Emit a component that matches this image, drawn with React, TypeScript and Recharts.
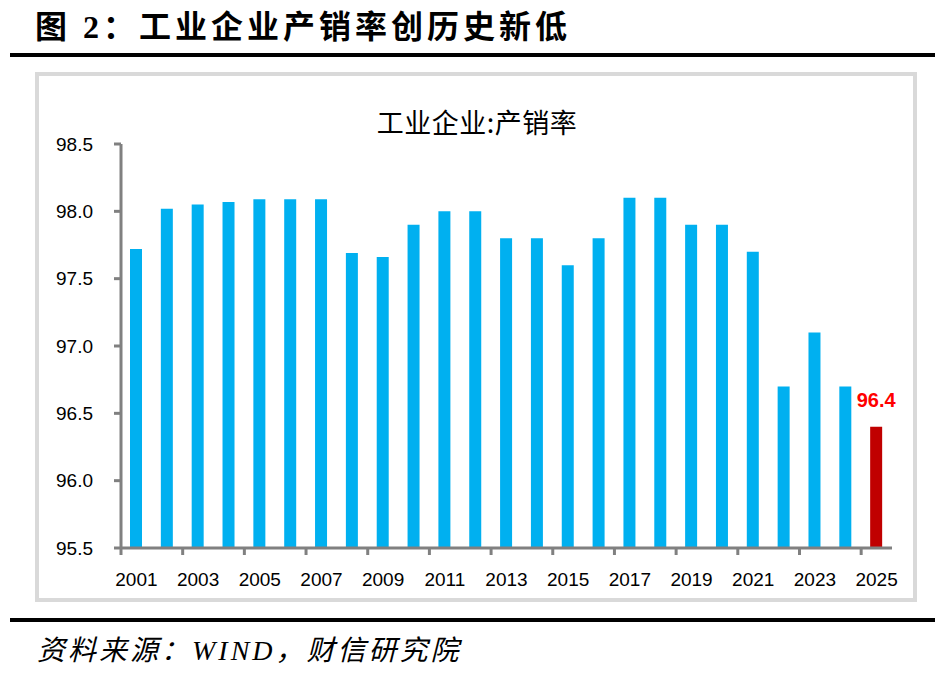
import React from 'react';
import { BarChart, Bar, XAxis, YAxis, Cell, LabelList } from 'recharts';

const years = [
  '2001', '2002', '2003', '2004', '2005', '2006', '2007', '2008', '2009', '2010',
  '2011', '2012', '2013', '2014', '2015', '2016', '2017', '2018', '2019', '2020',
  '2021', '2022', '2023', '2024', '2025',
];

const salesRate = [
  97.72, 98.02, 98.05, 98.07, 98.09, 98.09, 98.09, 97.69, 97.66, 97.9,
  98.0, 98.0, 97.8, 97.8, 97.6, 97.8, 98.1, 98.1, 97.9, 97.9,
  97.7, 96.7, 97.1, 96.7, 96.4,
];

const yTicks = [95.5, 96.0, 96.5, 97.0, 97.5, 98.0, 98.5];

const data = years.map((year, i) => ({ year, value: salesRate[i] }));

const PLOT_LEFT = 121;
const PLOT_RIGHT = 892;
const PLOT_TOP = 144;
const PLOT_BOTTOM = 548;
const BAND = (PLOT_RIGHT - PLOT_LEFT) / years.length;
const AXIS_GRAY = '#808080';
const TICK_FONT = '"Liberation Sans", Arial, sans-serif';

function YearTick(props: any) {
  const { x, y, payload } = props;
  const tx = x - BAND / 2;
  return (
    <g>
      <line x1={tx} x2={tx} y1={y} y2={y + 7} stroke={AXIS_GRAY} strokeWidth={3} />
      <text x={x} y={y + 38} textAnchor="middle" fill="#000" fontSize={19} fontFamily={TICK_FONT}>
        {payload.value}
      </text>
    </g>
  );
}

function LastLabel(props: any) {
  const { x, y, width, index, value } = props;
  if (index !== years.length - 1) return null;
  return (
    <text
      x={x + width / 2}
      y={y - 20}
      textAnchor="middle"
      fill="#FF0000"
      fontSize={20}
      fontWeight="bold"
      fontFamily={TICK_FONT}
    >
      {value}
    </text>
  );
}

export default function App() {
  return (
    <div style={{ position: 'absolute', left: 0, top: 0, width: 948, height: 678, background: '#fff', overflow: 'hidden' }}>
      <div
        style={{
          position: 'absolute',
          left: 35,
          top: 8,
          height: 38,
          lineHeight: '38px',
          fontSize: 32,
          fontWeight: 'bold',
          letterSpacing: 4,
          fontFamily: '"Liberation Serif", "Noto Sans CJK SC", serif',
          color: '#000',
          whiteSpace: 'nowrap',
        }}
      >
        图 2：工业企业产销率创历史新低
      </div>
      <div style={{ position: 'absolute', left: 10, top: 53, width: 925, height: 4, background: '#000' }} />

      <div
        style={{
          position: 'absolute',
          left: 35,
          top: 72,
          width: 882,
          height: 530,
          border: '4px solid #d9d9d9',
          boxSizing: 'border-box',
        }}
      />

      <div
        style={{
          position: 'absolute',
          left: 277,
          width: 400,
          top: 106,
          height: 32,
          lineHeight: '32px',
          textAlign: 'center',
          fontSize: 27,
          letterSpacing: 0.5,
          fontFamily: '"Noto Sans CJK SC", sans-serif',
          color: '#000',
        }}
      >
        工业企业:产销率
      </div>

      <div style={{ position: 'absolute', left: 0, top: 0 }}>
        <BarChart
          width={948}
          height={678}
          data={data}
          margin={{ top: PLOT_TOP, right: 948 - PLOT_RIGHT, bottom: 678 - PLOT_BOTTOM - 40, left: PLOT_LEFT - 80 }}
        >
          <XAxis
            dataKey="year"
            interval={1}
            height={40}
            tickSize={0}
            tickMargin={0}
            tickLine={false}
            axisLine={{ stroke: AXIS_GRAY, strokeWidth: 3 }}
            tick={<YearTick />}
          />
          <YAxis
            width={80}
            domain={[95.5, 98.5]}
            ticks={yTicks}
            interval={0}
            allowDataOverflow
            tickFormatter={(v: number) => v.toFixed(1)}
            tickSize={7}
            tickMargin={21}
            axisLine={{ stroke: AXIS_GRAY, strokeWidth: 3 }}
            tickLine={{ stroke: AXIS_GRAY, strokeWidth: 3 }}
            tick={{ fill: '#000', fontSize: 19, fontFamily: TICK_FONT }}
          />
          <Bar dataKey="value" barSize={12} isAnimationActive={false}>
            {data.map((d, i) => (
              <Cell key={d.year} fill={i === years.length - 1 ? '#C00000' : '#00B0F0'} />
            ))}
            <LabelList dataKey="value" content={<LastLabel />} />
          </Bar>
        </BarChart>
      </div>

      <div style={{ position: 'absolute', left: 10, top: 618, width: 925, height: 4, background: '#000' }} />
      <div
        style={{
          position: 'absolute',
          left: 37,
          top: 635,
          height: 32,
          lineHeight: '32px',
          fontSize: 28,
          fontStyle: 'italic',
          letterSpacing: 3,
          fontFamily: '"Liberation Serif", "Noto Sans CJK SC", serif',
          color: '#000',
          whiteSpace: 'nowrap',
        }}
      >
        资料来源：WIND，财信研究院
      </div>
    </div>
  );
}
